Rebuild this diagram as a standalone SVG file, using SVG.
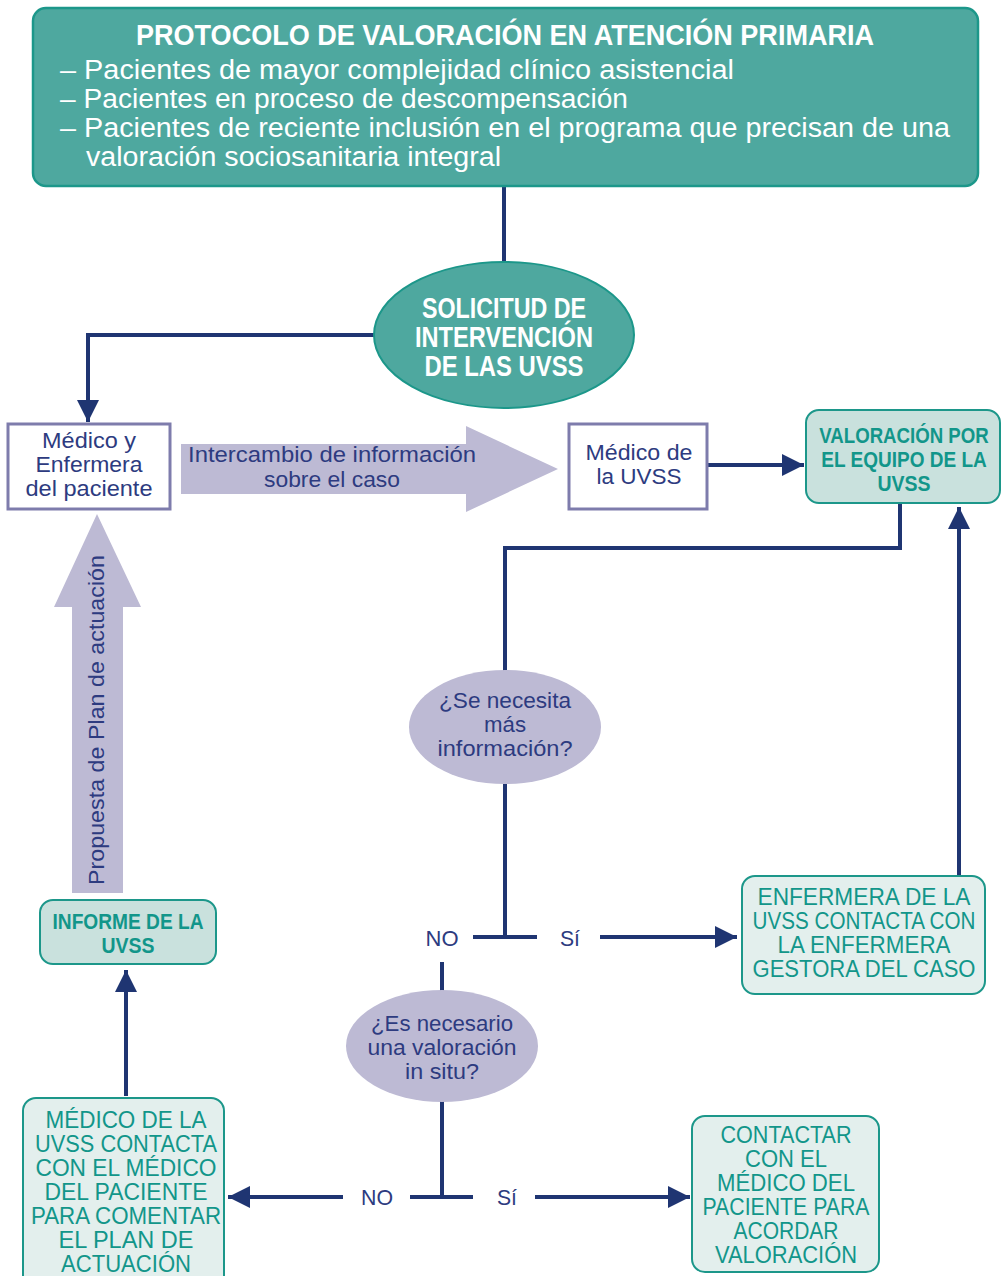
<svg xmlns="http://www.w3.org/2000/svg" width="1001" height="1276" viewBox="0 0 1001 1276">
<defs>
<marker id="ah" markerUnits="userSpaceOnUse" markerWidth="24" markerHeight="22" refX="22" refY="11" orient="auto">
<path d="M0,0 L22,11 L0,22 Z" fill="#1f3572"/>
</marker>
<style>
text{font-family:"Liberation Sans",Arial,sans-serif;text-anchor:middle}
.ln{fill:none;stroke:#1f3572;stroke-width:4}
.big{fill:#bdbad4}
.tw{fill:#ffffff;font-weight:bold}
.tb{fill:#ffffff;font-size:27px;text-anchor:start}
.nv{fill:#2d3b80;font-size:22px}
.tl{fill:#12968a;font-size:23px}
.tlb{fill:#12968a;font-size:22px;font-weight:bold}
.wb{fill:#ffffff;stroke:#7e7cac;stroke-width:3}
.tealbox{fill:#c9e1dd;stroke:#1c978a;stroke-width:2}
.litebox{fill:#e3efed;stroke:#1c978a;stroke-width:2}
.q{fill:#bdbad4}
</style>
</defs>

<g id="connectors">
<line class="ln" x1="504" y1="186" x2="504" y2="263"/>
<polyline class="ln" points="376,335 88,335 88,422" marker-end="url(#ah)"/>
<line class="ln" x1="707" y1="465" x2="804" y2="465" marker-end="url(#ah)"/>
<polyline class="ln" points="900,503 900,548 505,548 505,671"/>
<line class="ln" x1="505" y1="784" x2="505" y2="937"/>
<line class="ln" x1="473" y1="937" x2="537" y2="937"/>
<line class="ln" x1="600" y1="937" x2="737" y2="937" marker-end="url(#ah)"/>
<line class="ln" x1="959" y1="876" x2="959" y2="507" marker-end="url(#ah)"/>
<line class="ln" x1="442" y1="962" x2="442" y2="991"/>
<line class="ln" x1="442" y1="1101" x2="442" y2="1197"/>
<line class="ln" x1="410" y1="1197" x2="473" y2="1197"/>
<line class="ln" x1="343" y1="1197" x2="228" y2="1197" marker-end="url(#ah)"/>
<line class="ln" x1="535" y1="1197" x2="690" y2="1197" marker-end="url(#ah)"/>
<line class="ln" x1="126" y1="1096" x2="126" y2="970" marker-end="url(#ah)"/>
</g>

<g id="n-protocolo">
<rect x="33" y="8" width="945" height="178" rx="13" fill="#4ea89f" stroke="#1c978a" stroke-width="2.5"/>
<text class="tw" x="505" y="45" font-size="29" textLength="738" lengthAdjust="spacingAndGlyphs">PROTOCOLO DE VALORACIÓN EN ATENCIÓN PRIMARIA</text>
<text class="tb" x="60" y="79" textLength="674" lengthAdjust="spacingAndGlyphs">– Pacientes de mayor complejidad clínico asistencial</text>
<text class="tb" x="60" y="108" textLength="568" lengthAdjust="spacingAndGlyphs">– Pacientes en proceso de descompensación</text>
<text class="tb" x="60" y="137" textLength="890" lengthAdjust="spacingAndGlyphs">– Pacientes de reciente inclusión en el programa que precisan de una</text>
<text class="tb" x="86" y="166" textLength="415" lengthAdjust="spacingAndGlyphs">valoración sociosanitaria integral</text>
</g>

<g id="n-solicitud">
<ellipse cx="504" cy="335" rx="130" ry="73" fill="#4ea89f" stroke="#1c978a" stroke-width="2"/>
<text class="tw" x="504" y="318" font-size="29" textLength="164" lengthAdjust="spacingAndGlyphs">SOLICITUD DE</text>
<text class="tw" x="504" y="347" font-size="29" textLength="178" lengthAdjust="spacingAndGlyphs">INTERVENCIÓN</text>
<text class="tw" x="504" y="376" font-size="29" textLength="159" lengthAdjust="spacingAndGlyphs">DE LAS UVSS</text>
</g>

<g id="n-medico-enfermera">
<rect class="wb" x="8" y="424" width="162" height="85"/>
<text class="nv" x="89" y="448" textLength="94" lengthAdjust="spacingAndGlyphs">Médico y</text>
<text class="nv" x="89" y="472" textLength="107" lengthAdjust="spacingAndGlyphs">Enfermera</text>
<text class="nv" x="89" y="496" textLength="127" lengthAdjust="spacingAndGlyphs">del paciente</text>
</g>

<g id="n-intercambio">
<polygon class="big" points="181,444 466,444 466,426 558,469 466,512 466,494 181,494"/>
<text class="nv" x="332" y="462" textLength="288" lengthAdjust="spacingAndGlyphs">Intercambio de información</text>
<text class="nv" x="332" y="487" textLength="136" lengthAdjust="spacingAndGlyphs">sobre el caso</text>
</g>

<g id="n-medico-uvss">
<rect class="wb" x="569" y="424" width="138" height="85"/>
<text class="nv" x="639" y="460" textLength="107" lengthAdjust="spacingAndGlyphs">Médico de</text>
<text class="nv" x="639" y="484" textLength="85" lengthAdjust="spacingAndGlyphs">la UVSS</text>
</g>

<g id="n-valoracion-equipo">
<rect class="tealbox" x="806" y="410" width="194" height="93" rx="13"/>
<text class="tlb" transform="translate(904,443) scale(0.848,1)">VALORACIÓN POR</text>
<text class="tlb" transform="translate(904,467) scale(0.865,1)">EL EQUIPO DE LA</text>
<text class="tlb" x="904" y="491" textLength="53" lengthAdjust="spacingAndGlyphs">UVSS</text>
</g>

<g id="n-se-necesita">
<ellipse class="q" cx="505" cy="727" rx="96" ry="57"/>
<text class="nv" x="505" y="708" textLength="132" lengthAdjust="spacingAndGlyphs">¿Se necesita</text>
<text class="nv" x="505" y="732" textLength="42" lengthAdjust="spacingAndGlyphs">más</text>
<text class="nv" x="505" y="756" textLength="135" lengthAdjust="spacingAndGlyphs">información?</text>
</g>

<g id="labels-1">
<text class="nv" x="442" y="946" textLength="33" lengthAdjust="spacingAndGlyphs">NO</text>
<text class="nv" x="570" y="946" textLength="20" lengthAdjust="spacingAndGlyphs">Sí</text>
</g>

<g id="n-enfermera-uvss">
<rect class="litebox" x="742" y="876" width="243" height="118" rx="13"/>
<text class="tl" x="864" y="905" textLength="213" lengthAdjust="spacingAndGlyphs">ENFERMERA DE LA</text>
<text class="tl" x="864" y="929" textLength="223" lengthAdjust="spacingAndGlyphs">UVSS CONTACTA CON</text>
<text class="tl" x="864" y="953" textLength="173" lengthAdjust="spacingAndGlyphs">LA ENFERMERA</text>
<text class="tl" x="864" y="977" textLength="223" lengthAdjust="spacingAndGlyphs">GESTORA DEL CASO</text>
</g>

<g id="n-es-necesario">
<ellipse class="q" cx="442" cy="1046" rx="96" ry="56"/>
<text class="nv" x="442" y="1031" textLength="142" lengthAdjust="spacingAndGlyphs">¿Es necesario</text>
<text class="nv" x="442" y="1055" textLength="149" lengthAdjust="spacingAndGlyphs">una valoración</text>
<text class="nv" x="442" y="1079" textLength="74" lengthAdjust="spacingAndGlyphs">in situ?</text>
</g>

<g id="labels-2">
<text class="nv" x="377" y="1205" textLength="32" lengthAdjust="spacingAndGlyphs">NO</text>
<text class="nv" x="507" y="1205" textLength="20" lengthAdjust="spacingAndGlyphs">Sí</text>
</g>

<g id="n-medico-contacta">
<rect class="litebox" x="23" y="1098" width="201" height="190" rx="13"/>
<text class="tl" x="126" y="1128" textLength="161" lengthAdjust="spacingAndGlyphs">MÉDICO DE LA</text>
<text class="tl" x="126" y="1152" textLength="182" lengthAdjust="spacingAndGlyphs">UVSS CONTACTA</text>
<text class="tl" x="126" y="1176" textLength="181" lengthAdjust="spacingAndGlyphs">CON EL MÉDICO</text>
<text class="tl" x="126" y="1200" textLength="163" lengthAdjust="spacingAndGlyphs">DEL PACIENTE</text>
<text class="tl" x="126" y="1224" textLength="190" lengthAdjust="spacingAndGlyphs">PARA COMENTAR</text>
<text class="tl" x="126" y="1248" textLength="135" lengthAdjust="spacingAndGlyphs">EL PLAN DE</text>
<text class="tl" x="126" y="1272" textLength="130" lengthAdjust="spacingAndGlyphs">ACTUACIÓN</text>
</g>

<g id="n-contactar">
<rect class="litebox" x="692" y="1116" width="187" height="156" rx="13"/>
<text class="tl" x="786" y="1143" textLength="131" lengthAdjust="spacingAndGlyphs">CONTACTAR</text>
<text class="tl" x="786" y="1167" textLength="82" lengthAdjust="spacingAndGlyphs">CON EL</text>
<text class="tl" x="786" y="1191" textLength="138" lengthAdjust="spacingAndGlyphs">MÉDICO DEL</text>
<text class="tl" x="786" y="1215" textLength="167" lengthAdjust="spacingAndGlyphs">PACIENTE PARA</text>
<text class="tl" x="786" y="1239" textLength="105" lengthAdjust="spacingAndGlyphs">ACORDAR</text>
<text class="tl" x="786" y="1263" textLength="142" lengthAdjust="spacingAndGlyphs">VALORACIÓN</text>
</g>

<g id="n-informe">
<rect class="tealbox" x="40" y="900" width="176" height="64" rx="13"/>
<text class="tlb" x="128" y="929" textLength="151" lengthAdjust="spacingAndGlyphs">INFORME DE LA</text>
<text class="tlb" x="128" y="953" textLength="53" lengthAdjust="spacingAndGlyphs">UVSS</text>
</g>

<g id="n-propuesta">
<polygon class="big" points="72,893 72,607 54,607 97,514 141,607 123,607 123,893"/>
<text class="nv" x="0" y="0" transform="translate(104,720) rotate(-90)" textLength="330" lengthAdjust="spacingAndGlyphs">Propuesta de Plan de actuación</text>
</g>
</svg>
